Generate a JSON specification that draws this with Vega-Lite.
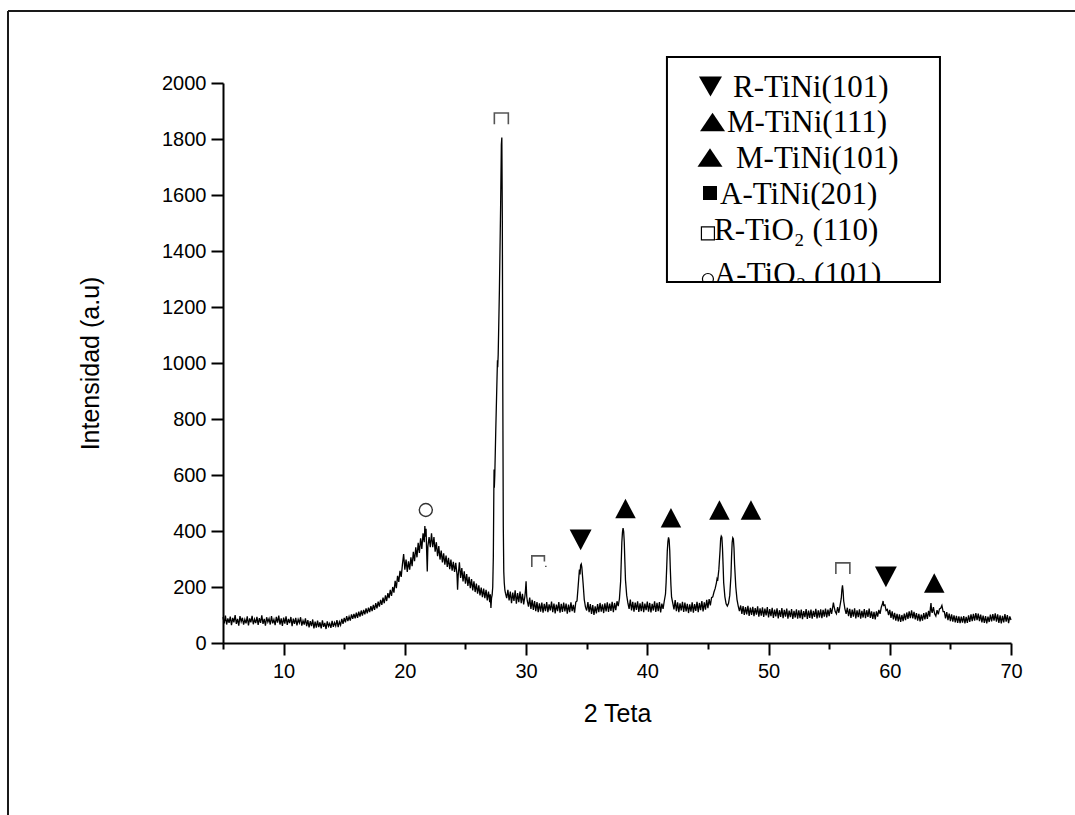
{
  "$schema": "https://vega.github.io/schema/vega-lite/v6.json",
  "width": 788,
  "height": 560,
  "autosize": {"type": "none"},
  "padding": {"left": 223, "top": 83, "right": 64, "bottom": 172},
  "background": "white",
  "config": {"view": {"stroke": null}},
  "datasets": {
    "frame": [
      {"x": -12.735, "y": 2257.1, "x2": 80, "y2": 2257.1},
      {"x": -12.735, "y": 2257.1, "x2": -12.735, "y2": -700}
    ],
    "xrd": [
      {"x":5.0,"y":92},{"x":5.1,"y":70},{"x":5.2,"y":98},{"x":5.3,"y":66},{"x":5.4,"y":88},{"x":5.5,"y":72},{"x":5.6,"y":94},{"x":5.7,"y":64},{"x":5.8,"y":90},{"x":5.9,"y":74},
      {"x":6.0,"y":100},{"x":6.1,"y":68},{"x":6.2,"y":86},{"x":6.3,"y":62},{"x":6.4,"y":96},{"x":6.5,"y":76},{"x":6.6,"y":90},{"x":6.7,"y":66},{"x":6.8,"y":84},{"x":6.9,"y":70},
      {"x":7.0,"y":95},{"x":7.1,"y":63},{"x":7.2,"y":88},{"x":7.3,"y":74},{"x":7.4,"y":97},{"x":7.5,"y":67},{"x":7.6,"y":85},{"x":7.7,"y":71},{"x":7.8,"y":93},{"x":7.9,"y":65},
      {"x":8.0,"y":89},{"x":8.1,"y":72},{"x":8.2,"y":99},{"x":8.3,"y":68},{"x":8.4,"y":86},{"x":8.5,"y":62},{"x":8.6,"y":92},{"x":8.7,"y":75},{"x":8.8,"y":87},{"x":8.9,"y":66},
      {"x":9.0,"y":96},{"x":9.1,"y":70},{"x":9.2,"y":84},{"x":9.3,"y":64},{"x":9.4,"y":93},{"x":9.5,"y":73},{"x":9.6,"y":98},{"x":9.7,"y":66},{"x":9.8,"y":88},{"x":9.9,"y":61},
      {"x":10.0,"y":91},{"x":10.1,"y":69},{"x":10.2,"y":95},{"x":10.3,"y":65},{"x":10.4,"y":86},{"x":10.5,"y":71},{"x":10.6,"y":93},{"x":10.7,"y":60},{"x":10.8,"y":87},{"x":10.9,"y":68},
      {"x":11.0,"y":90},{"x":11.1,"y":63},{"x":11.2,"y":84},{"x":11.3,"y":72},{"x":11.4,"y":92},{"x":11.5,"y":62},{"x":11.6,"y":80},{"x":11.7,"y":66},{"x":11.8,"y":88},{"x":11.9,"y":60},
      {"x":12.0,"y":82},{"x":12.1,"y":56},{"x":12.2,"y":78},{"x":12.3,"y":60},{"x":12.4,"y":84},{"x":12.5,"y":52},{"x":12.6,"y":76},{"x":12.7,"y":55},{"x":12.8,"y":80},{"x":12.9,"y":57},
      {"x":13.0,"y":74},{"x":13.1,"y":52},{"x":13.2,"y":81},{"x":13.3,"y":58},{"x":13.4,"y":72},{"x":13.5,"y":50},{"x":13.6,"y":77},{"x":13.7,"y":60},{"x":13.8,"y":70},{"x":13.9,"y":54},
      {"x":14.0,"y":79},{"x":14.1,"y":58},{"x":14.2,"y":73},{"x":14.3,"y":61},{"x":14.4,"y":82},{"x":14.5,"y":57},{"x":14.6,"y":76},{"x":14.7,"y":64},{"x":14.8,"y":86},{"x":14.9,"y":68},
      {"x":15.0,"y":90},{"x":15.1,"y":74},{"x":15.2,"y":96},{"x":15.3,"y":78},{"x":15.4,"y":94},{"x":15.5,"y":80},{"x":15.6,"y":102},{"x":15.7,"y":86},{"x":15.8,"y":104},{"x":15.9,"y":88},
      {"x":16.0,"y":108},{"x":16.1,"y":90},{"x":16.2,"y":112},{"x":16.3,"y":94},{"x":16.4,"y":116},{"x":16.5,"y":98},{"x":16.6,"y":118},{"x":16.7,"y":102},{"x":16.8,"y":124},{"x":16.9,"y":106},
      {"x":17.0,"y":126},{"x":17.1,"y":110},{"x":17.2,"y":132},{"x":17.3,"y":114},{"x":17.4,"y":136},{"x":17.5,"y":118},{"x":17.6,"y":142},{"x":17.7,"y":124},{"x":17.8,"y":148},{"x":17.9,"y":130},
      {"x":18.0,"y":154},{"x":18.1,"y":136},{"x":18.2,"y":162},{"x":18.3,"y":142},{"x":18.4,"y":170},{"x":18.5,"y":150},{"x":18.6,"y":178},{"x":18.7,"y":160},{"x":18.8,"y":190},{"x":18.9,"y":168},
      {"x":19.0,"y":200},{"x":19.1,"y":180},{"x":19.2,"y":222},{"x":19.3,"y":196},{"x":19.4,"y":240},{"x":19.5,"y":218},{"x":19.6,"y":258},{"x":19.7,"y":236},{"x":19.8,"y":280},{"x":19.9,"y":318},
      {"x":20.0,"y":262},{"x":20.1,"y":298},{"x":20.2,"y":254},{"x":20.3,"y":292},{"x":20.4,"y":262},{"x":20.5,"y":306},{"x":20.6,"y":274},{"x":20.7,"y":326},{"x":20.8,"y":292},{"x":20.9,"y":342},
      {"x":21.0,"y":306},{"x":21.1,"y":358},{"x":21.2,"y":322},{"x":21.3,"y":374},{"x":21.4,"y":336},{"x":21.5,"y":392},{"x":21.6,"y":360},{"x":21.65,"y":418},{"x":21.7,"y":380},{"x":21.75,"y":408},
      {"x":21.8,"y":325},{"x":21.85,"y":255},{"x":21.9,"y":345},{"x":22.0,"y":378},{"x":22.1,"y":342},{"x":22.2,"y":392},{"x":22.3,"y":342},{"x":22.4,"y":378},{"x":22.5,"y":326},{"x":22.6,"y":360},
      {"x":22.7,"y":310},{"x":22.8,"y":346},{"x":22.9,"y":298},{"x":23.0,"y":330},{"x":23.1,"y":288},{"x":23.2,"y":320},{"x":23.3,"y":280},{"x":23.4,"y":312},{"x":23.5,"y":272},{"x":23.6,"y":304},
      {"x":23.7,"y":264},{"x":23.8,"y":298},{"x":23.9,"y":258},{"x":24.0,"y":290},{"x":24.1,"y":254},{"x":24.2,"y":286},{"x":24.3,"y":246},{"x":24.35,"y":190},{"x":24.4,"y":240},{"x":24.5,"y":288},
      {"x":24.6,"y":232},{"x":24.7,"y":268},{"x":24.8,"y":220},{"x":24.9,"y":256},{"x":25.0,"y":212},{"x":25.1,"y":246},{"x":25.2,"y":204},{"x":25.3,"y":236},{"x":25.4,"y":196},{"x":25.5,"y":228},
      {"x":25.6,"y":188},{"x":25.7,"y":220},{"x":25.8,"y":182},{"x":25.9,"y":212},{"x":26.0,"y":176},{"x":26.1,"y":206},{"x":26.2,"y":170},{"x":26.3,"y":198},{"x":26.4,"y":164},{"x":26.5,"y":194},
      {"x":26.6,"y":160},{"x":26.7,"y":190},{"x":26.8,"y":152},{"x":26.9,"y":184},{"x":27.0,"y":146},{"x":27.05,"y":174},{"x":27.1,"y":125},{"x":27.15,"y":160},{"x":27.2,"y":172},{"x":27.25,"y":200},
      {"x":27.3,"y":310},{"x":27.34,"y":540},{"x":27.36,"y":620},{"x":27.38,"y":555},{"x":27.42,"y":600},{"x":27.5,"y":760},{"x":27.6,"y":940},{"x":27.64,"y":1010},{"x":27.66,"y":985},{"x":27.7,"y":1030},
      {"x":27.8,"y":1260},{"x":27.9,"y":1560},{"x":27.96,"y":1780},{"x":28.0,"y":1805},{"x":28.04,"y":1520},{"x":28.08,"y":900},{"x":28.12,"y":420},{"x":28.16,"y":255},{"x":28.2,"y":215},{"x":28.25,"y":190},
      {"x":28.3,"y":178},{"x":28.4,"y":160},{"x":28.5,"y":190},{"x":28.6,"y":152},{"x":28.7,"y":184},{"x":28.8,"y":142},{"x":28.9,"y":180},{"x":29.0,"y":150},{"x":29.1,"y":188},{"x":29.2,"y":140},
      {"x":29.3,"y":178},{"x":29.4,"y":146},{"x":29.5,"y":184},{"x":29.6,"y":142},{"x":29.7,"y":176},{"x":29.8,"y":138},{"x":29.9,"y":166},{"x":29.95,"y":188},{"x":30.0,"y":220},{"x":30.05,"y":168},
      {"x":30.1,"y":150},{"x":30.2,"y":130},{"x":30.3,"y":162},{"x":30.4,"y":122},{"x":30.5,"y":154},{"x":30.6,"y":118},{"x":30.7,"y":150},{"x":30.8,"y":114},{"x":30.9,"y":146},{"x":31.0,"y":110},
      {"x":31.1,"y":142},{"x":31.2,"y":112},{"x":31.3,"y":144},{"x":31.4,"y":108},{"x":31.5,"y":140},{"x":31.6,"y":114},{"x":31.7,"y":146},{"x":31.8,"y":110},{"x":31.9,"y":138},{"x":32.0,"y":116},
      {"x":32.1,"y":148},{"x":32.2,"y":110},{"x":32.3,"y":141},{"x":32.4,"y":106},{"x":32.5,"y":137},{"x":32.6,"y":114},{"x":32.7,"y":146},{"x":32.8,"y":108},{"x":32.9,"y":140},{"x":33.0,"y":111},
      {"x":33.1,"y":144},{"x":33.2,"y":113},{"x":33.3,"y":141},{"x":33.4,"y":105},{"x":33.5,"y":137},{"x":33.6,"y":110},{"x":33.7,"y":145},{"x":33.8,"y":114},{"x":33.9,"y":136},{"x":34.0,"y":108},
      {"x":34.1,"y":146},{"x":34.2,"y":150},{"x":34.3,"y":205},{"x":34.4,"y":262},{"x":34.45,"y":245},{"x":34.5,"y":278},{"x":34.55,"y":282},{"x":34.6,"y":270},{"x":34.7,"y":215},{"x":34.8,"y":155},
      {"x":34.9,"y":128},{"x":35.0,"y":116},{"x":35.1,"y":146},{"x":35.2,"y":110},{"x":35.3,"y":139},{"x":35.4,"y":104},{"x":35.5,"y":135},{"x":35.6,"y":100},{"x":35.7,"y":131},{"x":35.8,"y":106},
      {"x":35.9,"y":139},{"x":36.0,"y":110},{"x":36.1,"y":143},{"x":36.2,"y":112},{"x":36.3,"y":138},{"x":36.4,"y":107},{"x":36.5,"y":142},{"x":36.6,"y":113},{"x":36.7,"y":145},{"x":36.8,"y":111},
      {"x":36.9,"y":141},{"x":37.0,"y":115},{"x":37.1,"y":147},{"x":37.2,"y":110},{"x":37.3,"y":143},{"x":37.4,"y":117},{"x":37.5,"y":149},{"x":37.6,"y":132},{"x":37.7,"y":158},{"x":37.8,"y":220},
      {"x":37.85,"y":290},{"x":37.9,"y":360},{"x":37.95,"y":395},{"x":38.0,"y":410},{"x":38.05,"y":398},{"x":38.1,"y":360},{"x":38.15,"y":290},{"x":38.2,"y":225},{"x":38.3,"y":170},{"x":38.4,"y":142},
      {"x":38.5,"y":122},{"x":38.6,"y":155},{"x":38.7,"y":116},{"x":38.8,"y":147},{"x":38.9,"y":112},{"x":39.0,"y":144},{"x":39.1,"y":118},{"x":39.2,"y":149},{"x":39.3,"y":111},{"x":39.4,"y":142},
      {"x":39.5,"y":114},{"x":39.6,"y":147},{"x":39.7,"y":110},{"x":39.8,"y":141},{"x":39.9,"y":117},{"x":40.0,"y":148},{"x":40.1,"y":112},{"x":40.2,"y":143},{"x":40.3,"y":109},{"x":40.4,"y":140},
      {"x":40.5,"y":116},{"x":40.6,"y":149},{"x":40.7,"y":111},{"x":40.8,"y":143},{"x":40.9,"y":114},{"x":41.0,"y":146},{"x":41.1,"y":109},{"x":41.2,"y":141},{"x":41.3,"y":122},{"x":41.4,"y":150},
      {"x":41.5,"y":175},{"x":41.55,"y":215},{"x":41.6,"y":270},{"x":41.65,"y":330},{"x":41.7,"y":362},{"x":41.75,"y":377},{"x":41.8,"y":368},{"x":41.85,"y":330},{"x":41.9,"y":262},{"x":41.95,"y":205},
      {"x":42.0,"y":165},{"x":42.1,"y":142},{"x":42.2,"y":120},{"x":42.3,"y":153},{"x":42.4,"y":114},{"x":42.5,"y":145},{"x":42.6,"y":110},{"x":42.7,"y":142},{"x":42.8,"y":116},{"x":42.9,"y":147},
      {"x":43.0,"y":111},{"x":43.1,"y":144},{"x":43.2,"y":113},{"x":43.3,"y":140},{"x":43.4,"y":107},{"x":43.5,"y":138},{"x":43.6,"y":112},{"x":43.7,"y":145},{"x":43.8,"y":108},{"x":43.9,"y":139},
      {"x":44.0,"y":115},{"x":44.1,"y":147},{"x":44.2,"y":110},{"x":44.3,"y":143},{"x":44.4,"y":117},{"x":44.5,"y":150},{"x":44.6,"y":113},{"x":44.7,"y":145},{"x":44.8,"y":119},{"x":44.9,"y":154},
      {"x":45.0,"y":124},{"x":45.1,"y":157},{"x":45.2,"y":134},{"x":45.3,"y":162},{"x":45.4,"y":165},{"x":45.5,"y":182},{"x":45.6,"y":195},{"x":45.7,"y":215},{"x":45.75,"y":228},{"x":45.8,"y":222},
      {"x":45.9,"y":262},{"x":46.0,"y":330},{"x":46.05,"y":372},{"x":46.1,"y":382},{"x":46.15,"y":378},{"x":46.2,"y":340},{"x":46.25,"y":280},{"x":46.3,"y":215},{"x":46.4,"y":165},{"x":46.5,"y":140},
      {"x":46.6,"y":132},{"x":46.7,"y":142},{"x":46.8,"y":170},{"x":46.9,"y":240},{"x":46.95,"y":310},{"x":47.0,"y":360},{"x":47.05,"y":376},{"x":47.1,"y":372},{"x":47.15,"y":340},{"x":47.2,"y":280},
      {"x":47.3,"y":200},{"x":47.4,"y":155},{"x":47.5,"y":132},{"x":47.6,"y":114},{"x":47.7,"y":134},{"x":47.8,"y":104},{"x":47.9,"y":132},{"x":48.0,"y":100},{"x":48.1,"y":128},{"x":48.2,"y":102},
      {"x":48.3,"y":133},{"x":48.4,"y":97},{"x":48.5,"y":126},{"x":48.6,"y":100},{"x":48.7,"y":129},{"x":48.8,"y":96},{"x":48.9,"y":125},{"x":49.0,"y":101},{"x":49.1,"y":131},{"x":49.2,"y":94},
      {"x":49.3,"y":124},{"x":49.4,"y":98},{"x":49.5,"y":127},{"x":49.6,"y":93},{"x":49.7,"y":123},{"x":49.8,"y":99},{"x":49.9,"y":128},{"x":50.0,"y":91},{"x":50.1,"y":121},{"x":50.2,"y":96},
      {"x":50.3,"y":126},{"x":50.4,"y":90},{"x":50.5,"y":119},{"x":50.6,"y":95},{"x":50.7,"y":124},{"x":50.8,"y":88},{"x":50.9,"y":117},{"x":51.0,"y":93},{"x":51.1,"y":125},{"x":51.2,"y":89},
      {"x":51.3,"y":118},{"x":51.4,"y":94},{"x":51.5,"y":123},{"x":51.6,"y":87},{"x":51.7,"y":116},{"x":51.8,"y":92},{"x":51.9,"y":121},{"x":52.0,"y":86},{"x":52.1,"y":115},{"x":52.2,"y":91},
      {"x":52.3,"y":120},{"x":52.4,"y":87},{"x":52.5,"y":117},{"x":52.6,"y":89},{"x":52.7,"y":119},{"x":52.8,"y":85},{"x":52.9,"y":114},{"x":53.0,"y":92},{"x":53.1,"y":121},{"x":53.2,"y":86},
      {"x":53.3,"y":116},{"x":53.4,"y":90},{"x":53.5,"y":119},{"x":53.6,"y":87},{"x":53.7,"y":115},{"x":53.8,"y":93},{"x":53.9,"y":122},{"x":54.0,"y":88},{"x":54.1,"y":117},{"x":54.2,"y":91},
      {"x":54.3,"y":120},{"x":54.4,"y":89},{"x":54.5,"y":118},{"x":54.6,"y":94},{"x":54.7,"y":123},{"x":54.8,"y":91},{"x":54.9,"y":119},{"x":55.0,"y":96},{"x":55.1,"y":125},{"x":55.2,"y":104},
      {"x":55.3,"y":130},{"x":55.35,"y":144},{"x":55.4,"y":132},{"x":55.5,"y":112},{"x":55.6,"y":104},{"x":55.7,"y":128},{"x":55.8,"y":108},{"x":55.9,"y":134},{"x":56.0,"y":160},{"x":56.05,"y":190},
      {"x":56.1,"y":206},{"x":56.15,"y":185},{"x":56.2,"y":150},{"x":56.3,"y":122},{"x":56.4,"y":104},{"x":56.5,"y":126},{"x":56.6,"y":96},{"x":56.7,"y":122},{"x":56.8,"y":90},{"x":56.9,"y":119},
      {"x":57.0,"y":94},{"x":57.1,"y":124},{"x":57.2,"y":88},{"x":57.3,"y":117},{"x":57.4,"y":92},{"x":57.5,"y":120},{"x":57.6,"y":87},{"x":57.7,"y":115},{"x":57.8,"y":91},{"x":57.9,"y":121},
      {"x":58.0,"y":89},{"x":58.1,"y":117},{"x":58.2,"y":93},{"x":58.3,"y":123},{"x":58.4,"y":90},{"x":58.5,"y":113},{"x":58.6,"y":86},{"x":58.7,"y":111},{"x":58.8,"y":84},{"x":58.9,"y":113},
      {"x":59.0,"y":94},{"x":59.1,"y":118},{"x":59.2,"y":104},{"x":59.3,"y":128},{"x":59.4,"y":140},{"x":59.45,"y":150},{"x":59.5,"y":134},{"x":59.6,"y":136},{"x":59.7,"y":116},{"x":59.8,"y":120},
      {"x":59.9,"y":100},{"x":60.0,"y":118},{"x":60.1,"y":90},{"x":60.2,"y":113},{"x":60.3,"y":84},{"x":60.4,"y":108},{"x":60.5,"y":80},{"x":60.6,"y":104},{"x":60.7,"y":77},{"x":60.8,"y":102},
      {"x":60.9,"y":75},{"x":61.0,"y":100},{"x":61.1,"y":78},{"x":61.2,"y":105},{"x":61.3,"y":82},{"x":61.4,"y":109},{"x":61.5,"y":86},{"x":61.6,"y":113},{"x":61.7,"y":89},{"x":61.8,"y":117},
      {"x":61.9,"y":88},{"x":62.0,"y":111},{"x":62.1,"y":84},{"x":62.2,"y":107},{"x":62.3,"y":80},{"x":62.4,"y":104},{"x":62.5,"y":77},{"x":62.6,"y":101},{"x":62.7,"y":80},{"x":62.8,"y":107},
      {"x":62.9,"y":84},{"x":63.0,"y":109},{"x":63.1,"y":86},{"x":63.2,"y":115},{"x":63.3,"y":94},{"x":63.35,"y":125},{"x":63.4,"y":143},{"x":63.45,"y":116},{"x":63.5,"y":108},{"x":63.6,"y":128},
      {"x":63.7,"y":104},{"x":63.8,"y":96},{"x":63.9,"y":117},{"x":64.0,"y":102},{"x":64.1,"y":122},{"x":64.2,"y":124},{"x":64.3,"y":134},{"x":64.4,"y":112},{"x":64.5,"y":112},{"x":64.6,"y":88},
      {"x":64.7,"y":110},{"x":64.8,"y":82},{"x":64.9,"y":105},{"x":65.0,"y":78},{"x":65.1,"y":102},{"x":65.2,"y":76},{"x":65.3,"y":99},{"x":65.4,"y":74},{"x":65.5,"y":97},{"x":65.6,"y":72},
      {"x":65.7,"y":95},{"x":65.8,"y":71},{"x":65.9,"y":94},{"x":66.0,"y":73},{"x":66.1,"y":96},{"x":66.2,"y":70},{"x":66.3,"y":93},{"x":66.4,"y":72},{"x":66.5,"y":99},{"x":66.6,"y":75},
      {"x":66.7,"y":102},{"x":66.8,"y":78},{"x":66.9,"y":104},{"x":67.0,"y":80},{"x":67.1,"y":107},{"x":67.2,"y":82},{"x":67.3,"y":105},{"x":67.4,"y":78},{"x":67.5,"y":101},{"x":67.6,"y":74},
      {"x":67.7,"y":98},{"x":67.8,"y":72},{"x":67.9,"y":96},{"x":68.0,"y":70},{"x":68.1,"y":94},{"x":68.2,"y":75},{"x":68.3,"y":101},{"x":68.4,"y":77},{"x":68.5,"y":103},{"x":68.6,"y":80},
      {"x":68.7,"y":106},{"x":68.8,"y":76},{"x":68.9,"y":102},{"x":69.0,"y":72},{"x":69.1,"y":99},{"x":69.2,"y":70},{"x":69.3,"y":97},{"x":69.4,"y":74},{"x":69.5,"y":103},{"x":69.6,"y":76},
      {"x":69.7,"y":100},{"x":69.8,"y":71},{"x":69.9,"y":95},{"x":70.0,"y":82}
    ],
    "peaks": [
      {"x": 21.73, "y": 475, "phase": "A-TiO2"},
      {"x": 27.96, "y": 1873, "phase": "R-TiO2"},
      {"x": 31.05, "y": 291, "phase": "R-TiO2 weak"},
      {"x": 34.5, "y": 368, "phase": "R-TiNi"},
      {"x": 38.2, "y": 480, "phase": "M-TiNi"},
      {"x": 41.95, "y": 447, "phase": "M-TiNi"},
      {"x": 45.95, "y": 475, "phase": "M-TiNi"},
      {"x": 48.55, "y": 475, "phase": "M-TiNi"},
      {"x": 56.13, "y": 266, "phase": "R-TiO2"},
      {"x": 59.68, "y": 236, "phase": "R-TiNi"},
      {"x": 63.67, "y": 214, "phase": "M-TiNi"}
    ],
    "legendSymbols": [
      {"x": 45.21, "y": 1987.5, "phase": "R-TiNi"},
      {"x": 45.38, "y": 1860.7, "phase": "M-TiNi"},
      {"x": 45.17, "y": 1733.9, "phase": "M-TiNi"},
      {"x": 45.17, "y": 1607.1, "phase": "A-TiNi"},
      {"x": 45.0, "y": 1463, "phase": "R-TiO2"},
      {"x": 45.0, "y": 1300, "phase": "A-TiO2"}
    ],
    "legendText": [
      {"x": 47.07, "y": 1950.0, "label": "R-TiNi(101)"},
      {"x": 46.57, "y": 1825.0, "label": "M-TiNi(111)"},
      {"x": 47.32, "y": 1696.4, "label": "M-TiNi(101)"},
      {"x": 46.0, "y": 1567.9, "label": "A-TiNi(201)"},
      {"x": 45.5, "y": 1439.3, "label": "R-TiO₂ (110)"},
      {"x": 45.5, "y": 1282.1, "label": "A-TiO₂ (101)"}
    ],
    "legendBox": [
      {"x": 41.62, "x2": 64.14, "y": 2093, "y2": 1289.3}
    ],
    "legendCut": [
      {"x": 41.0, "x2": 64.8, "y": 1286, "y2": 1180}
    ]
  },
  "layer": [
    {
      "data": {"name": "frame"},
      "mark": {"type": "rule", "color": "#1a1a1a", "strokeWidth": 2},
      "encoding": {
        "x": {"field": "x", "type": "quantitative"},
        "x2": {"field": "x2"},
        "y": {"field": "y", "type": "quantitative"},
        "y2": {"field": "y2"}
      }
    },
    {
      "data": {"name": "xrd"},
      "mark": {"type": "line", "color": "black", "strokeWidth": 1.3},
      "encoding": {
        "x": {
          "field": "x", "type": "quantitative",
          "scale": {"domain": [5, 70], "nice": false, "zero": false},
          "axis": {
            "title": "2 Teta",
            "values": [5, 10, 15, 20, 25, 30, 35, 40, 45, 50, 55, 60, 65, 70],
            "labelExpr": "datum.value % 10 === 0 ? datum.label : ''",
            "labelFont": "Liberation Sans", "labelFontSize": 20, "labelColor": "black",
            "labelPadding": 6, "labelFlush": false, "labelOverlap": false, "labelBound": false,
            "tickSize": {"condition": {"test": "datum.value % 10 === 0", "value": 12}, "value": 6},
            "tickColor": "black", "tickWidth": 2,
            "domainColor": "black", "domainWidth": 2,
            "grid": false,
            "titleFont": "Liberation Sans", "titleFontSize": 25, "titleFontWeight": "normal", "titleColor": "black",
            "titlePadding": 20
          }
        },
        "y": {
          "field": "y", "type": "quantitative",
          "scale": {"domain": [0, 2000], "nice": false, "zero": false},
          "axis": {
            "title": "Intensidad (a.u)",
            "values": [0, 100, 200, 300, 400, 500, 600, 700, 800, 900, 1000, 1100, 1200, 1300, 1400, 1500, 1600, 1700, 1800, 1900, 2000],
            "labelExpr": "datum.value % 200 === 0 ? datum.label : ''",
            "format": "d",
            "labelFont": "Liberation Sans", "labelFontSize": 20, "labelColor": "black",
            "labelPadding": 5, "labelOverlap": false, "labelBound": false, "labelFlush": false,
            "tickSize": {"condition": {"test": "datum.value % 200 === 0", "value": 12}, "value": 6},
            "tickColor": "black", "tickWidth": 2,
            "domainColor": "black", "domainWidth": 2,
            "grid": false,
            "titleFont": "Liberation Sans", "titleFontSize": 25, "titleFontWeight": "normal", "titleColor": "black",
            "titlePadding": 58
          }
        }
      }
    },
    {
      "data": {"name": "peaks"},
      "transform": [{"filter": "datum.phase === 'M-TiNi'"}],
      "mark": {"type": "point", "shape": "M0,-0.95L1,0.95L-1,0.95Z", "size": 420, "filled": true, "fill": "black", "strokeWidth": 0, "opacity": 1},
      "encoding": {"x": {"field": "x", "type": "quantitative"}, "y": {"field": "y", "type": "quantitative"}}
    },
    {
      "data": {"name": "peaks"},
      "transform": [{"filter": "datum.phase === 'R-TiNi'"}],
      "mark": {"type": "point", "shape": "M0,0.95L1,-0.95L-1,-0.95Z", "size": 480, "filled": true, "fill": "black", "strokeWidth": 0, "opacity": 1},
      "encoding": {"x": {"field": "x", "type": "quantitative"}, "y": {"field": "y", "type": "quantitative"}}
    },
    {
      "data": {"name": "peaks"},
      "transform": [{"filter": "datum.phase === 'R-TiO2'"}],
      "mark": {"type": "point", "shape": "M-1,0.8L-1,-0.8L1,-0.8L1,0.8", "size": 196, "filled": false, "stroke": "#555555", "strokeWidth": 1.6, "opacity": 1},
      "encoding": {"x": {"field": "x", "type": "quantitative"}, "y": {"field": "y", "type": "quantitative"}}
    },
    {
      "data": {"name": "peaks"},
      "transform": [{"filter": "datum.phase === 'R-TiO2 weak'"}],
      "mark": {"type": "point", "shape": "M-1,0.8L-1,-0.8L0.8,-0.8L0.8,0M1,0.6L1,0.8", "size": 196, "filled": false, "stroke": "#555555", "strokeWidth": 1.6, "opacity": 1},
      "encoding": {"x": {"field": "x", "type": "quantitative"}, "y": {"field": "y", "type": "quantitative"}}
    },
    {
      "data": {"name": "peaks"},
      "transform": [{"filter": "datum.phase === 'A-TiO2'"}],
      "mark": {"type": "point", "shape": "circle", "size": 169, "filled": false, "stroke": "#333333", "strokeWidth": 1.4, "opacity": 1},
      "encoding": {"x": {"field": "x", "type": "quantitative"}, "y": {"field": "y", "type": "quantitative"}}
    },
    {
      "data": {"name": "legendBox"},
      "mark": {"type": "rect", "fill": "white", "stroke": null},
      "encoding": {
        "x": {"field": "x", "type": "quantitative"}, "x2": {"field": "x2"},
        "y": {"field": "y", "type": "quantitative"}, "y2": {"field": "y2"}
      }
    },
    {
      "data": {"name": "legendSymbols"},
      "transform": [{"filter": "datum.phase === 'R-TiNi'"}],
      "mark": {"type": "point", "shape": "M0,0.87L1,-0.87L-1,-0.87Z", "size": 529, "filled": true, "fill": "black", "strokeWidth": 0, "opacity": 1},
      "encoding": {"x": {"field": "x", "type": "quantitative"}, "y": {"field": "y", "type": "quantitative"}}
    },
    {
      "data": {"name": "legendSymbols"},
      "transform": [{"filter": "datum.phase === 'M-TiNi'"}],
      "mark": {"type": "point", "shape": "M0,-0.74L1,0.74L-1,0.74Z", "size": 625, "filled": true, "fill": "black", "strokeWidth": 0, "opacity": 1},
      "encoding": {"x": {"field": "x", "type": "quantitative"}, "y": {"field": "y", "type": "quantitative"}}
    },
    {
      "data": {"name": "legendSymbols"},
      "transform": [{"filter": "datum.phase === 'A-TiNi'"}],
      "mark": {"type": "point", "shape": "square", "size": 196, "filled": true, "fill": "black", "strokeWidth": 0, "opacity": 1},
      "encoding": {"x": {"field": "x", "type": "quantitative"}, "y": {"field": "y", "type": "quantitative"}}
    },
    {
      "data": {"name": "legendSymbols"},
      "transform": [{"filter": "datum.phase === 'R-TiO2'"}],
      "mark": {"type": "point", "shape": "square", "size": 169, "filled": false, "stroke": "black", "strokeWidth": 1.2, "opacity": 1},
      "encoding": {"x": {"field": "x", "type": "quantitative"}, "y": {"field": "y", "type": "quantitative"}}
    },
    {
      "data": {"name": "legendSymbols"},
      "transform": [{"filter": "datum.phase === 'A-TiO2'"}],
      "mark": {"type": "point", "shape": "circle", "size": 121, "filled": false, "stroke": "black", "strokeWidth": 1.2, "opacity": 1},
      "encoding": {"x": {"field": "x", "type": "quantitative"}, "y": {"field": "y", "type": "quantitative"}}
    },
    {
      "data": {"name": "legendText"},
      "mark": {"type": "text", "font": "Liberation Serif", "fontSize": 31, "color": "black", "align": "left", "baseline": "alphabetic"},
      "encoding": {
        "x": {"field": "x", "type": "quantitative"},
        "y": {"field": "y", "type": "quantitative"},
        "text": {"field": "label"}
      }
    },
    {
      "data": {"name": "legendCut"},
      "mark": {"type": "rect", "fill": "white", "stroke": null},
      "encoding": {
        "x": {"field": "x", "type": "quantitative"}, "x2": {"field": "x2"},
        "y": {"field": "y", "type": "quantitative"}, "y2": {"field": "y2"}
      }
    },
    {
      "data": {"name": "legendBox"},
      "mark": {"type": "rect", "fill": null, "fillOpacity": 0, "stroke": "black", "strokeWidth": 2},
      "encoding": {
        "x": {"field": "x", "type": "quantitative"}, "x2": {"field": "x2"},
        "y": {"field": "y", "type": "quantitative"}, "y2": {"field": "y2"}
      }
    }
  ]
}
